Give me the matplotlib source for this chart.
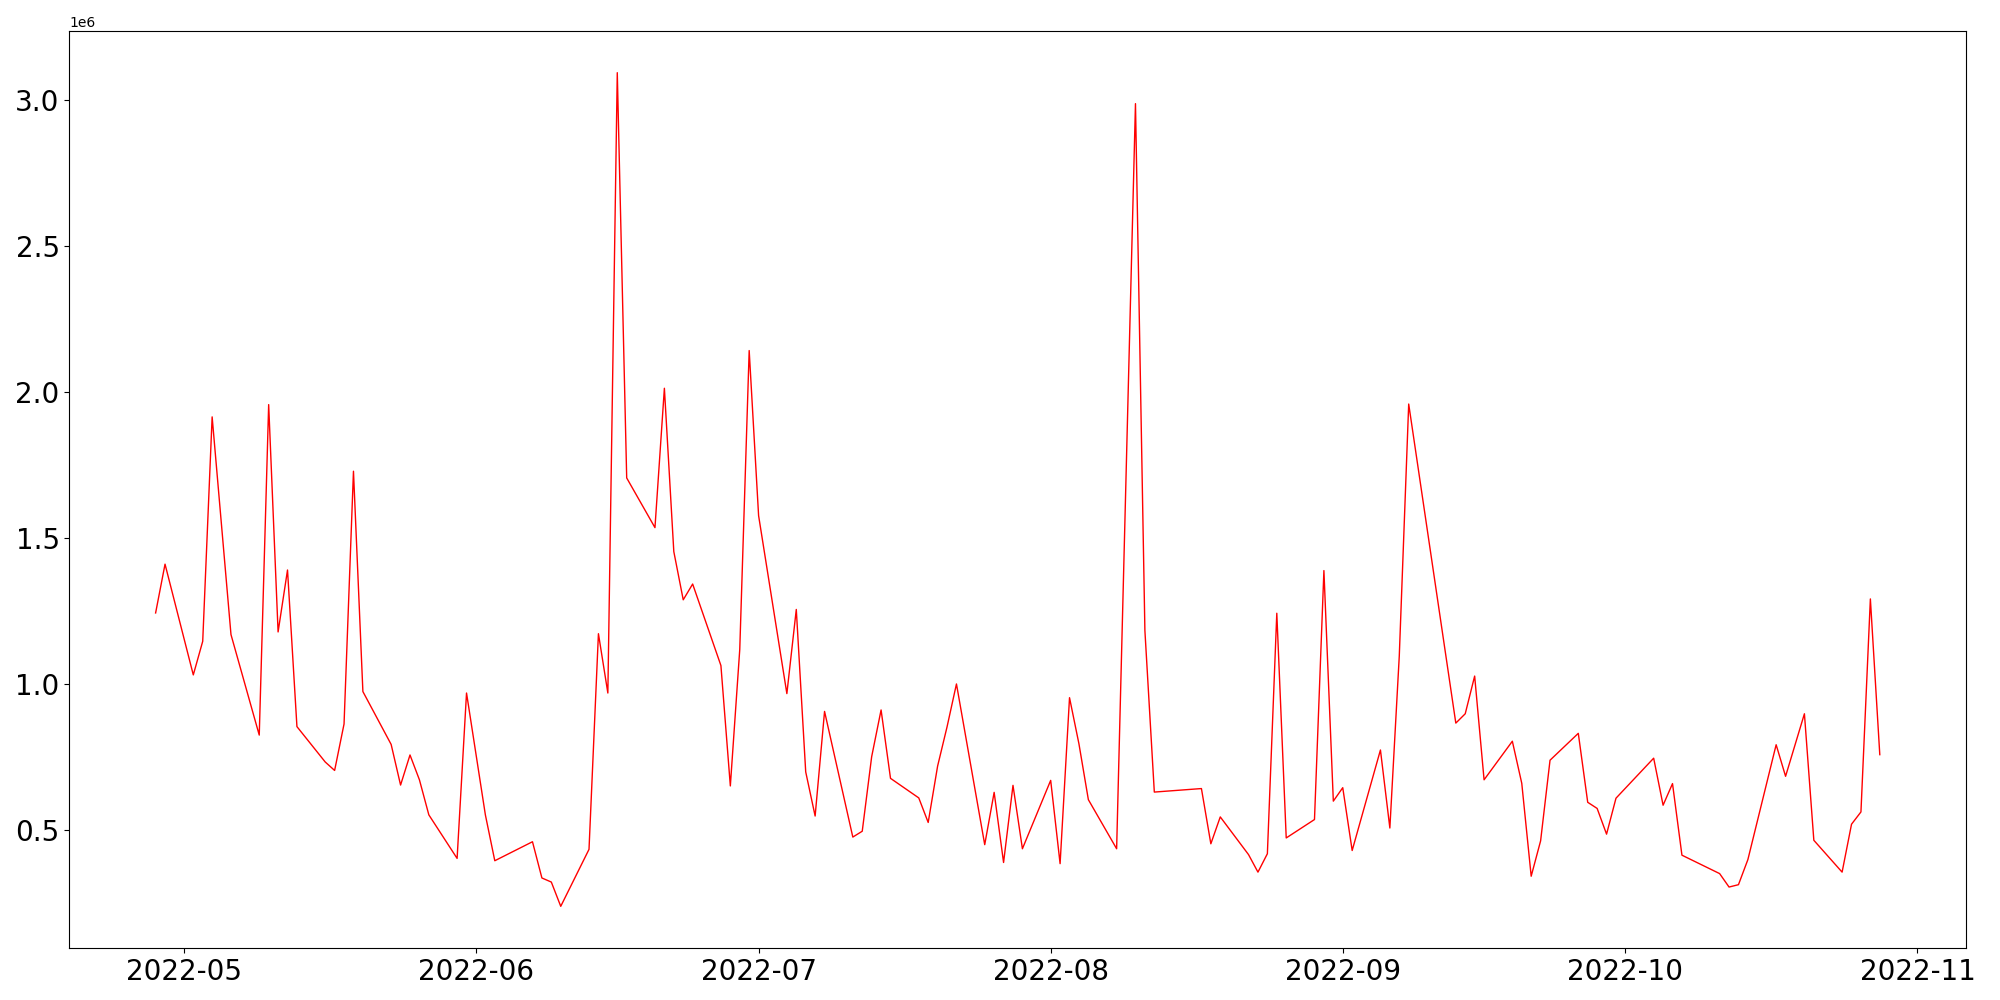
import pandas as pd
import matplotlib
matplotlib.use("Agg")
import matplotlib.pyplot as plt

dates = [
    "2022-04-28", "2022-04-29", "2022-05-02", "2022-05-03", "2022-05-04", "2022-05-06",
    "2022-05-09", "2022-05-10", "2022-05-11", "2022-05-12", "2022-05-13",
    "2022-05-16", "2022-05-17", "2022-05-18", "2022-05-19", "2022-05-20",
    "2022-05-23", "2022-05-24", "2022-05-25", "2022-05-26", "2022-05-27",
    "2022-05-30", "2022-05-31", "2022-06-02", "2022-06-03",
    "2022-06-07", "2022-06-08", "2022-06-09", "2022-06-10",
    "2022-06-13", "2022-06-14", "2022-06-15", "2022-06-16", "2022-06-17",
    "2022-06-20", "2022-06-21", "2022-06-22", "2022-06-23", "2022-06-24",
    "2022-06-27", "2022-06-28", "2022-06-29", "2022-06-30", "2022-07-01",
    "2022-07-04", "2022-07-05", "2022-07-06", "2022-07-07", "2022-07-08",
    "2022-07-11", "2022-07-12", "2022-07-13", "2022-07-14", "2022-07-15",
    "2022-07-18", "2022-07-19", "2022-07-20", "2022-07-21", "2022-07-22",
    "2022-07-25", "2022-07-26", "2022-07-27", "2022-07-28", "2022-07-29",
    "2022-08-01", "2022-08-02", "2022-08-03", "2022-08-04", "2022-08-05",
    "2022-08-08", "2022-08-10", "2022-08-11", "2022-08-12",
    "2022-08-17", "2022-08-18", "2022-08-19",
    "2022-08-22", "2022-08-23", "2022-08-24", "2022-08-25", "2022-08-26",
    "2022-08-29", "2022-08-30", "2022-08-31", "2022-09-01", "2022-09-02",
    "2022-09-05", "2022-09-06", "2022-09-07", "2022-09-08",
    "2022-09-13", "2022-09-14", "2022-09-15", "2022-09-16",
    "2022-09-19", "2022-09-20", "2022-09-21", "2022-09-22", "2022-09-23",
    "2022-09-26", "2022-09-27", "2022-09-28", "2022-09-29", "2022-09-30",
    "2022-10-04", "2022-10-05", "2022-10-06", "2022-10-07",
    "2022-10-11", "2022-10-12", "2022-10-13", "2022-10-14",
    "2022-10-17", "2022-10-18", "2022-10-20", "2022-10-21",
    "2022-10-24", "2022-10-25", "2022-10-26", "2022-10-27", "2022-10-28",
]

volume = [
    1244000, 1411000, 1032000, 1147000, 1915000, 1170000,
    826000, 1957000, 1179000, 1391000, 855000,
    734000, 705000, 864000, 1729000, 975000,
    794000, 655000, 758000, 673000, 553000,
    404000, 970000, 553000, 396000,
    461000, 337000, 323000, 240000,
    435000, 1173000, 970000, 3093000, 1706000,
    1536000, 2013000, 1454000, 1289000, 1343000,
    1064000, 652000, 1119000, 2142000, 1577000,
    968000, 1256000, 700000, 549000, 907000,
    477000, 497000, 752000, 912000, 678000,
    611000, 527000, 720000, 854000, 1001000,
    451000, 630000, 390000, 654000, 437000,
    671000, 386000, 954000, 796000, 605000,
    437000, 2987000, 1184000, 631000,
    643000, 454000, 546000,
    417000, 357000, 420000, 1243000, 474000,
    537000, 1389000, 600000, 646000, 431000,
    775000, 508000, 1097000, 1959000,
    867000, 899000, 1028000, 673000,
    805000, 661000, 343000, 464000, 740000,
    832000, 596000, 575000, 487000, 610000,
    747000, 586000, 660000, 415000,
    352000, 306000, 314000, 400000,
    793000, 685000, 899000, 466000,
    357000, 521000, 563000, 1292000, 759000,
]

x = pd.to_datetime(dates)

plt.figure(figsize=(20, 10), dpi=100)
plt.plot(x, volume, color="red", linewidth=1)
plt.xticks(fontsize=20)
plt.yticks(fontsize=20)
plt.subplots_adjust(left=0.0347, right=0.983, bottom=0.052, top=0.969)
plt.savefig("out.png")
